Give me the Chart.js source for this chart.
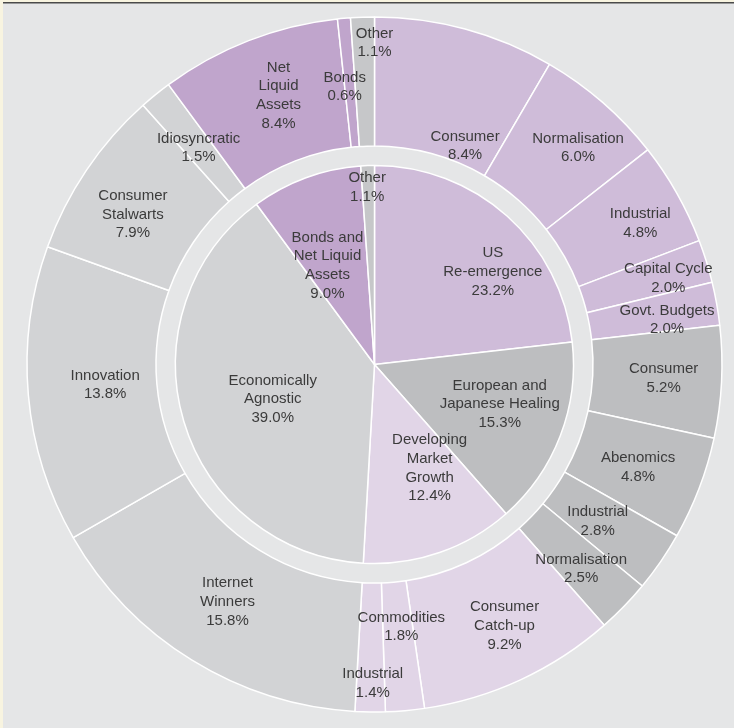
<!DOCTYPE html>
<html>
<head>
<meta charset="utf-8">
<script src="https://cdn.jsdelivr.net/npm/chart.js@4"></script>
<style>
  body { margin: 0; background: #f8f4e0; }
  canvas { display: block; }
</style>
</head>
<body>
<canvas id="sunburst" width="734" height="728"></canvas>
<script>
// inner ring: themes
const themeNames = ['US\nRe-emergence', 'European and\nJapanese Healing', 'Developing\nMarket\nGrowth', 'Economically\nAgnostic', 'Bonds and\nNet Liquid\nAssets', 'Other'];
const themeValues = [23.2, 15.3, 12.4, 39.0, 9.0, 1.1];

// outer ring: sub-themes, with the theme each belongs to
const subNames = ['Consumer', 'Normalisation', 'Industrial', 'Capital Cycle', 'Govt. Budgets',
    'Consumer', 'Abenomics', 'Industrial', 'Normalisation',
    'Consumer\nCatch-up', 'Commodities', 'Industrial',
    'Internet\nWinners', 'Innovation', 'Consumer\nStalwarts', 'Idiosyncratic',
    'Net\nLiquid\nAssets', 'Bonds', 'Other'];
const subValues = [8.4, 6.0, 4.8, 2.0, 2.0,
    5.2, 4.8, 2.8, 2.5,
    9.2, 1.8, 1.4,
    15.8, 13.8, 7.9, 1.5,
    8.4, 0.6, 1.1];
const subTheme = [0, 0, 0, 0, 0, 1, 1, 1, 1, 2, 2, 2, 3, 3, 3, 3, 4, 4, 5];

const themeColors = ['#cfbcd9', '#bdbec0', '#e1d5e7', '#d2d3d5', '#c0a5cc', '#c6c7c9'];

// label placement: [fraction across ring, angle shift in degrees]
const subPlace = [[0.14, 7.4], [0.61, 2.2], [0.64, 1.5], [0.68, 0.9], [0.6, 1.4],
    [0.55, -0.2], [0.5, 0.5], [0.42, 0.5], [0.56, 0.6],
    [0.57, -1.6], [0.35, -0.8], [0.78, -0.4],
    [0.47, 0.1], [0.4, 0.7], [0.51, -2.2], [0.47, 0],
    [0.52, 1.6], [0.47, -1.1], [0.8, 2]];
const themePlace = [[0.755, 10.2], [0.66, -3.5], [0.59, -8.9], [0.54, -2.2], [0.55, -5.3], [0.89, -0.4]];

const backdrop = {
    id: 'backdrop',
    beforeDraw(chart) {
        const c = chart.ctx;
        c.save();
        c.fillStyle = '#f8f4e0';
        c.fillRect(0, 0, chart.width, chart.height);
        c.fillStyle = '#e5e6e7';
        c.fillRect(3, 3, chart.width - 3, chart.height - 3);
        c.fillStyle = '#4a4a4a';
        c.fillRect(3, 2, chart.width - 3, 1.5);
        c.restore();
    }
};

const sliceLabels = {
    id: 'sliceLabels',
    afterDatasetsDraw(chart) {
        const c = chart.ctx;
        c.save();
        c.font = '15px "Liberation Sans", Arial, sans-serif';
        c.fillStyle = '#3b3b3b';
        c.textAlign = 'center';
        c.textBaseline = 'middle';
        const drawSet = (dsIndex, names, values, place) => {
            chart.getDatasetMeta(dsIndex).data.forEach((arc, i) => {
                const p = arc.getProps(['x', 'y', 'startAngle', 'endAngle', 'innerRadius', 'outerRadius'], true);
                const a = (p.startAngle + p.endAngle) / 2 + place[i][1] * Math.PI / 180;
                const r = p.innerRadius + place[i][0] * (p.outerRadius - p.innerRadius);
                const lines = names[i].split('\n').concat(values[i].toFixed(1) + '%');
                const lh = 18.7;
                const x = p.x + Math.cos(a) * r;
                const y0 = p.y + Math.sin(a) * r - (lines.length - 1) * lh / 2;
                lines.forEach((t, k) => c.fillText(t, x, y0 + k * lh));
            });
        };
        drawSet(0, subNames, subValues, subPlace);
        drawSet(2, themeNames, themeValues, themePlace);
        c.restore();
    }
};

new Chart(document.getElementById('sunburst'), {
    type: 'doughnut',
    data: {
        datasets: [
            {
                data: subValues,
                backgroundColor: subTheme.map(t => themeColors[t]),
                borderColor: '#ffffff',
                borderWidth: 1.5,
                weight: 129
            },
            {
                data: [1],
                backgroundColor: 'rgba(0,0,0,0)',
                borderWidth: 0,
                weight: 19.5
            },
            {
                data: themeValues,
                backgroundColor: themeColors,
                borderColor: '#ffffff',
                borderWidth: 1.5,
                weight: 199
            }
        ]
    },
    options: {
        responsive: false,
        animation: false,
        devicePixelRatio: 1,
        events: [],
        cutout: 0,
        radius: 347.5,
        layout: { padding: { left: 26, right: 11, top: 16, bottom: 15 } },
        plugins: {
            legend: { display: false },
            tooltip: { enabled: false }
        }
    },
    plugins: [backdrop, sliceLabels]
});
</script>
</body>
</html>
